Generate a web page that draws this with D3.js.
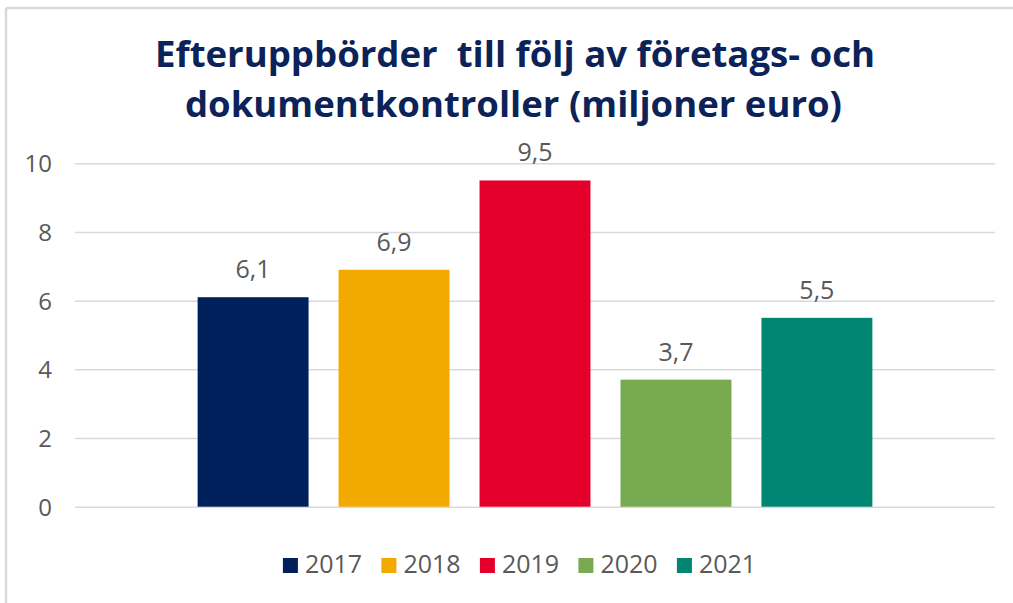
<!DOCTYPE html>
<html>
<head>
<meta charset="utf-8">
<script src="https://cdn.jsdelivr.net/npm/d3@7"></script>
<style>
  body { margin: 0; background: #fff; }
  svg { display: block; font-family: "Open Sans", sans-serif; }
</style>
</head>
<body>
<svg id="chart"></svg>
<script>
// data
const years = ["2017", "2018", "2019", "2020", "2021"];
const values = [6.1, 6.9, 9.5, 3.7, 5.5];
const yTicks = [0, 2, 4, 6, 8, 10];
const titleLines = ["Efteruppbörder  till följ av företags- och", "dokumentkontroller (miljoner euro)"];
const colors = ["#00205b", "#f2a900", "#e4002b", "#78aa50", "#008672"];

class BarChart {
  constructor(_config) {
    this.config = {
      parentElement: _config.parentElement,
      containerWidth: _config.containerWidth || 1013,
      containerHeight: _config.containerHeight || 603,
      plotLeft: 75,
      plotRight: 995,
      plotTop: 163.3,
      plotBottom: 506.7
    }
    this.initVis();
  }

  initVis() {
    let vis = this;

    vis.svg = d3.select(vis.config.parentElement)
      .attr('width', vis.config.containerWidth)
      .attr('height', vis.config.containerHeight);

    // frame (only top and left edges show)
    vis.svg.append('line')
      .attr('x1', 6).attr('x2', vis.config.containerWidth)
      .attr('y1', 8).attr('y2', 8)
      .attr('stroke', '#d9d9d9').attr('stroke-width', 2.5);
    vis.svg.append('line')
      .attr('x1', 6).attr('x2', 6)
      .attr('y1', 8).attr('y2', vis.config.containerHeight)
      .attr('stroke', '#d9d9d9').attr('stroke-width', 2.5);

    vis.x = d3.scaleBand()
      .domain(years)
      .range([vis.config.plotLeft, vis.config.plotRight])
      .paddingInner(0.213)
      .paddingOuter(0.87);

    vis.y = d3.scaleLinear()
      .domain([0, 10])
      .range([vis.config.plotBottom, vis.config.plotTop]);

    vis.chart = vis.svg.append('g');
  }

  render() {
    let vis = this;

    // title (keep the double space after the first word)
    const title = vis.svg.append('text')
      .attr('text-anchor', 'middle')
      .attr('fill', '#0b2359')
      .attr('font-weight', 700)
      .attr('font-size', 35)
      .style('white-space', 'pre');
    const titleLen = [720, 657];
    const titleX = [515, 513.5];
    titleLines.forEach((t, i) => {
      title.append('tspan')
        .attr('x', titleX[i])
        .attr('y', 66.7 + i * 50)
        .attr('textLength', titleLen[i])
        .attr('lengthAdjust', 'spacingAndGlyphs')
        .text(t);
    });

    // grid + y axis
    const yAxis = d3.axisLeft(vis.y)
      .tickValues(yTicks)
      .tickSize(-(vis.config.plotRight - vis.config.plotLeft))
      .tickPadding(23)
      .tickFormat(d3.format('d'));

    const yG = vis.chart.append('g')
      .attr('transform', `translate(${vis.config.plotLeft},0)`)
      .call(yAxis);
    yG.select('.domain').remove();
    yG.selectAll('.tick line')
      .attr('stroke', '#d9d9d9')
      .attr('stroke-width', 1.5);
    yG.selectAll('.tick text')
      .attr('fill', '#595959')
      .attr('font-size', 24)
      .attr('font-family', '"Open Sans", sans-serif')
      .attr('dy', '0.35em');

    // bars
    vis.chart.selectAll('.bar')
      .data(values)
      .join('rect')
      .attr('class', 'bar')
      .attr('x', (d, i) => vis.x(years[i]))
      .attr('width', vis.x.bandwidth())
      .attr('y', d => vis.y(d))
      .attr('height', d => vis.y(0) - vis.y(d))
      .attr('fill', (d, i) => colors[i]);

    // value labels
    const fmt = d3.format('.1f');
    vis.chart.selectAll('.bar-label')
      .data(values)
      .join('text')
      .attr('class', 'bar-label')
      .attr('text-anchor', 'middle')
      .attr('x', (d, i) => vis.x(years[i]) + vis.x.bandwidth() / 2)
      .attr('y', d => vis.y(d) - 19)
      .attr('fill', '#595959')
      .attr('font-size', 25)
      .text(d => fmt(d).replace('.', ','));

    // legend
    const legend = vis.svg.append('g');
    const step = 98.5;
    const items = legend.selectAll('g')
      .data(years)
      .join('g')
      .attr('transform', (d, i) => `translate(${i * step},0)`);
    items.append('rect')
      .attr('x', 0).attr('y', 558)
      .attr('width', 15).attr('height', 15)
      .attr('fill', (d, i) => colors[i]);
    items.append('text')
      .attr('x', 22).attr('y', 573.3)
      .attr('fill', '#595959')
      .attr('font-size', 25)
      .text(d => d);

    const lastW = items.filter((d, i) => i === years.length - 1).select('text').node().getComputedTextLength();
    const total = (years.length - 1) * step + 22 + lastW;
    legend.attr('transform', `translate(${519.5 - total / 2},0)`);
  }
}

const chart = new BarChart({ parentElement: '#chart' });
chart.render();
</script>
</body>
</html>
